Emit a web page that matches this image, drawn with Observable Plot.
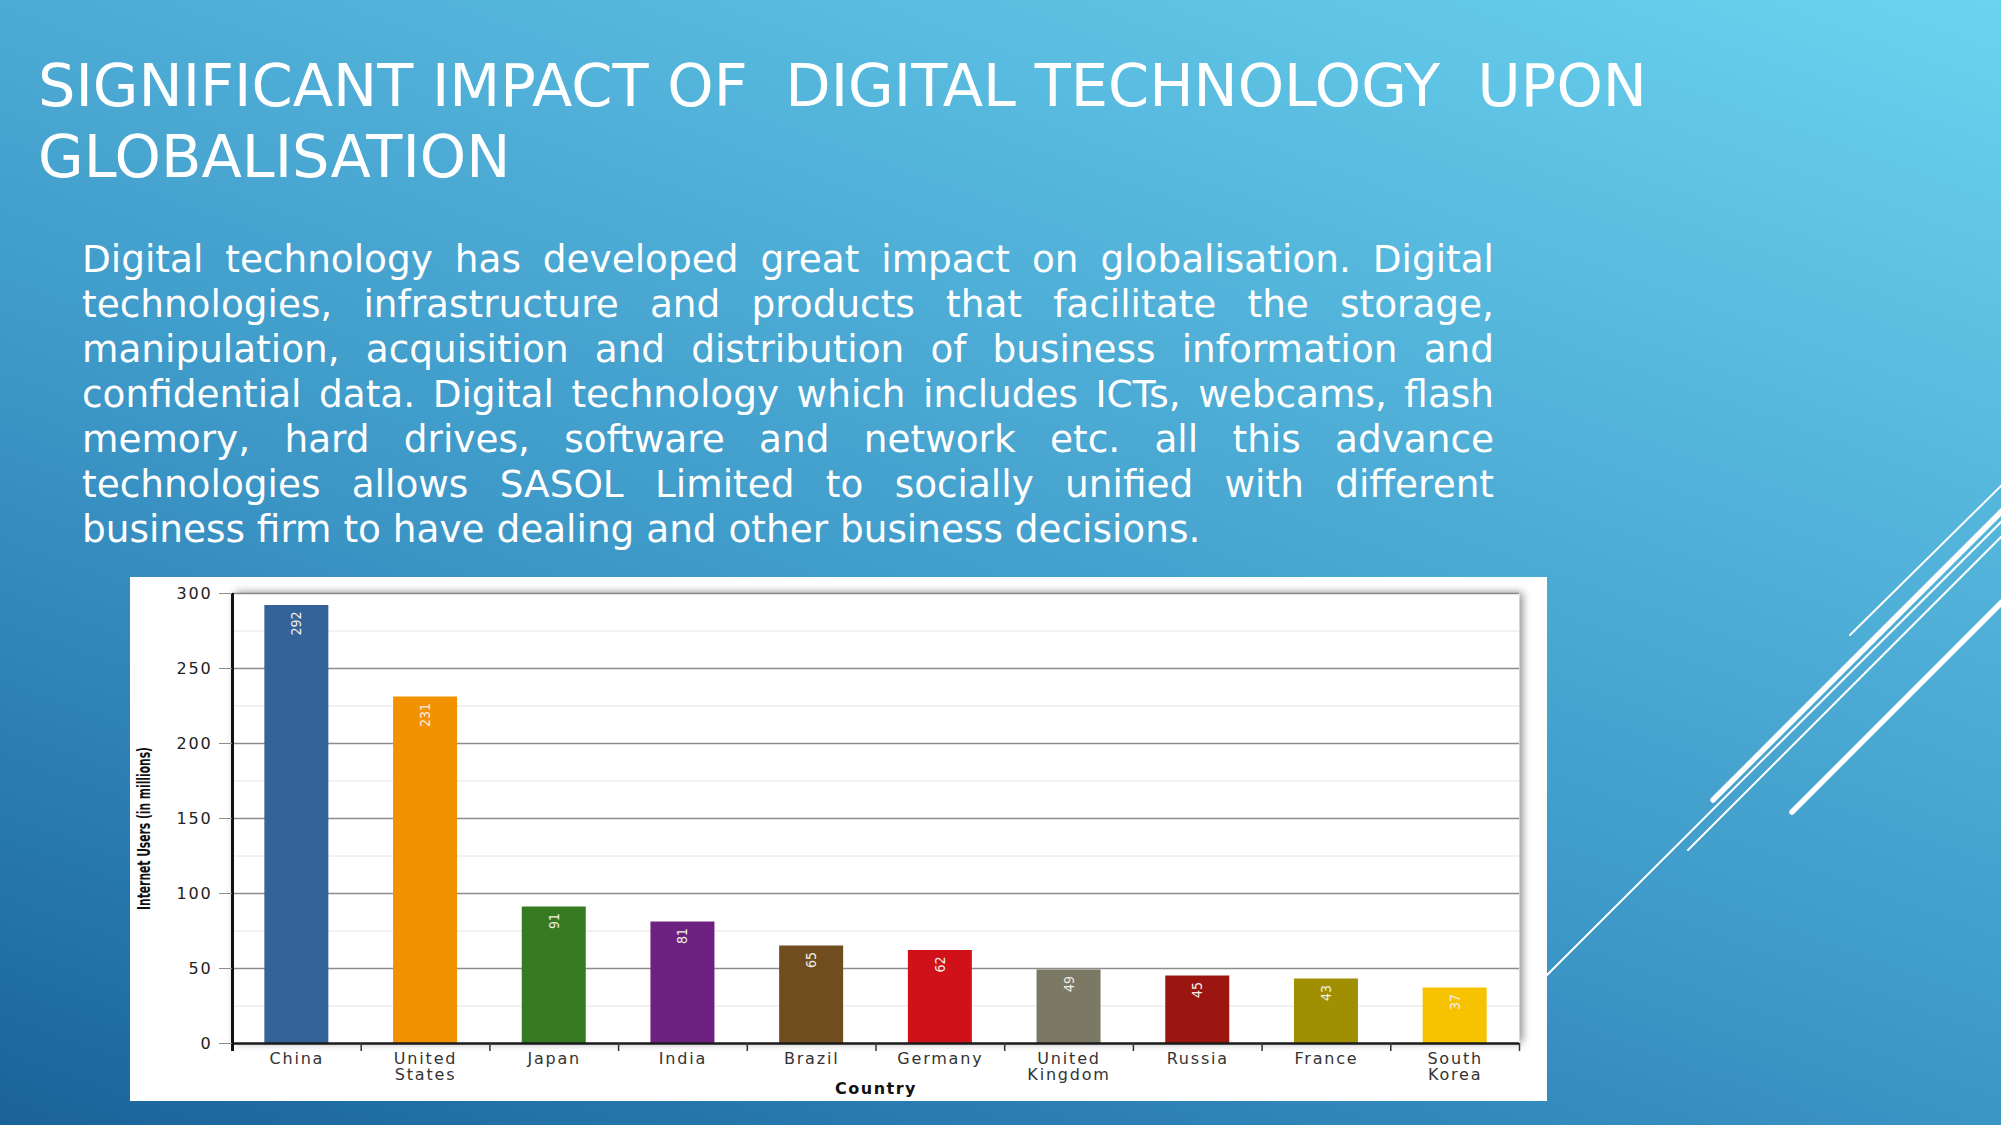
<!DOCTYPE html>
<html>
<head>
<meta charset="utf-8">
<script src="https://cdn.jsdelivr.net/npm/d3@7"></script>
<script src="https://cdn.jsdelivr.net/npm/@observablehq/plot@0.6"></script>
<style>
  html, body { margin: 0; padding: 0; }
  body {
    width: 2001px; height: 1125px; overflow: hidden; position: relative;
    background: linear-gradient(200deg, #6bd3ef 0%, #55b6dc 28%, #3d98c7 58%, #2a7db3 80%, #1a6399 100%);
    font-family: "DejaVu Sans", sans-serif;
  }
  #title {
    position: absolute; left: 38px; top: 50px;
    color: #fff; font-size: 59px; line-height: 71px; white-space: pre;
  }
  #para {
    position: absolute; left: 82px; top: 237px; width: 1412px;
    color: #fff; font-size: 37.4px; line-height: 45px;
  }
  #para div { text-align: justify; text-align-last: justify; white-space: nowrap; }
  #para div.last { text-align: left; text-align-last: left; }
  #chart { position: absolute; left: 130px; top: 577px; width: 1417px; height: 524px; background: #fff; overflow: hidden; }
  #deco { position: absolute; left: 0; top: 0; pointer-events: none; }
  #chart g[aria-label="x-axis tick label"] text { letter-spacing: 1.8px; }
  #chart g[aria-label="y-axis tick label"] text { letter-spacing: 1.8px; }
  #chart [aria-label="x-title"] { letter-spacing: 1.5px; }
</style>
</head>
<body>
<svg id="deco" width="2001" height="1125">
  <g stroke="#fff" fill="none" stroke-linecap="round">
    <line x1="1547" y1="975" x2="2010" y2="513" stroke-width="2"/>
    <line x1="1850" y1="635" x2="2010" y2="477" stroke-width="2"/>
    <line x1="1713" y1="800" x2="2010" y2="503" stroke-width="5.5"/>
    <line x1="1688" y1="850" x2="2010" y2="528" stroke-width="2"/>
    <line x1="1792" y1="812" x2="2010" y2="594" stroke-width="5.5"/>
  </g>
</svg>
<div id="title">SIGNIFICANT IMPACT OF  DIGITAL TECHNOLOGY  UPON
GLOBALISATION</div>
<div id="para"></div>
<div id="chart"></div>
<script>
// ---- text content ----
const paragraphLines = [
  "Digital technology has developed great impact on globalisation. Digital",
  "technologies, infrastructure and products that facilitate the storage,",
  "manipulation, acquisition and distribution of business information and",
  "confidential data. Digital technology which includes ICTs, webcams, flash",
  "memory, hard drives, software and network etc. all this advance",
  "technologies allows SASOL Limited to socially unified with different",
  "business firm to have dealing and other business decisions."
];

// ---- chart data ----
const countries = ["China", "United States", "Japan", "India", "Brazil", "Germany", "United Kingdom", "Russia", "France", "South Korea"];
const tickLabels = ["China", "United\nStates", "Japan", "India", "Brazil", "Germany", "United\nKingdom", "Russia", "France", "South\nKorea"];
const users = [292, 231, 91, 81, 65, 62, 49, 45, 43, 37];
const barColors = ["#34639a", "#f39200", "#367a22", "#6d2282", "#6f4d1f", "#d01119", "#7b7964", "#9b1511", "#a08f00", "#f7c200"];
const yMajorTicks = [0, 50, 100, 150, 200, 250, 300];
const yMinorTicks = [25, 75, 125, 175, 225, 275];
const yLabel = "Internet Users (in millions)";
const xLabel = "Country";

const para = document.getElementById("para");
paragraphLines.forEach((t, i) => {
  const d = document.createElement("div");
  d.textContent = t;
  if (i === paragraphLines.length - 1) d.className = "last";
  para.appendChild(d);
});

const data = countries.map((c, i) => ({country: c, label: tickLabels[i], users: users[i], color: barColors[i]}));
const labelOf = new Map(countries.map((c, i) => [c, tickLabels[i]]));

const W = 1417, H = 524;
const mL = 102, mR = 28, mT = 16, mB = 58;
const band = (W - mL - mR) / countries.length;
const barW = 64;
const inset = (band - barW) / 2;
const condensed = "'DejaVu Sans Condensed', 'DejaVu Sans', sans-serif";

const chart = Plot.plot({
  width: W,
  height: H,
  marginLeft: mL,
  marginRight: mR,
  marginTop: mT,
  marginBottom: mB,
  style: {background: "white", fontFamily: "DejaVu Sans", fontSize: "16px", overflow: "visible"},
  x: {type: "band", domain: countries, padding: 0, round: false},
  y: {domain: [0, 300]},
  color: {type: "identity"},
  marks: [
    Plot.frame({fill: "white", stroke: "none"}),
    Plot.ruleY(yMinorTicks, {stroke: "#e4e4e4", strokeWidth: 1}),
    Plot.ruleY(yMajorTicks.filter(v => v > 0), {stroke: "#8c8c8c", strokeWidth: 1.5}),
    Plot.barY(data, {x: "country", y: "users", fill: "color", insetLeft: inset, insetRight: inset}),
    Plot.text(data, {x: "country", y: "users", text: d => String(d.users), rotate: -90, textAnchor: "end", dy: 6,
      fill: "#f2f0e6", fontFamily: condensed, fontSize: 14}),
    Plot.ruleY([0], {stroke: "#1a1a1a", strokeWidth: 2.5}),
    Plot.ruleX(countries.slice(1), {x: d => d, dx: -band / 2, y1: 0, y2: 0, insetBottom: -8, stroke: "#333", strokeWidth: 1.5}),
    Plot.ruleX(countries.slice(-1), {x: d => d, dx: band / 2, y1: 0, y2: 0, insetBottom: -8, stroke: "#333", strokeWidth: 1.5}),
    Plot.ruleX(countries.slice(0, 1), {x: d => d, dx: -band / 2, y1: 300, y2: 0, insetBottom: -8, stroke: "#111", strokeWidth: 3}),
    Plot.axisY({ticks: yMajorTicks, tickSize: 13, tickPadding: 7, stroke: "#8c8c8c", fill: "#222", fontSize: 16, label: null, tickFormat: d3.format("d")}),
    Plot.axisX({tickSize: 0, tickPadding: 9, fill: "#333", fontSize: 16, label: null, tickFormat: d => labelOf.get(d)}),
    Plot.text([yLabel], {frameAnchor: "left", textAnchor: "middle", dx: -88, dy: 10, rotate: -90, fontFamily: condensed, fontWeight: "bold", fontSize: 17, fill: "#111", ariaLabel: () => "y-title"}),
    Plot.text([xLabel], {frameAnchor: "bottom", dy: 50, fontWeight: "bold", fontSize: 16, fill: "#111", ariaLabel: () => "x-title"})
  ]
});
document.getElementById("chart").appendChild(chart);
const fr = chart.querySelector('[aria-label="frame"]');
if (fr) fr.style.filter = "drop-shadow(3px -1px 4px rgba(0,0,0,0.45))";
// compress the y title along its own direction (narrow typeface look)
let yt = chart.querySelector('[aria-label="y-title"]');
if (yt && yt.tagName.toLowerCase() !== "text") yt = yt.querySelector("text");
if (yt) {
  const natural = yt.getComputedTextLength();
  const k = natural > 0 ? 163 / natural : 1;
  const tr = yt.getAttribute("transform") || "";
  yt.setAttribute("transform", tr + ` scale(${k.toFixed(3)},1)`);
}
</script>
</body>
</html>
